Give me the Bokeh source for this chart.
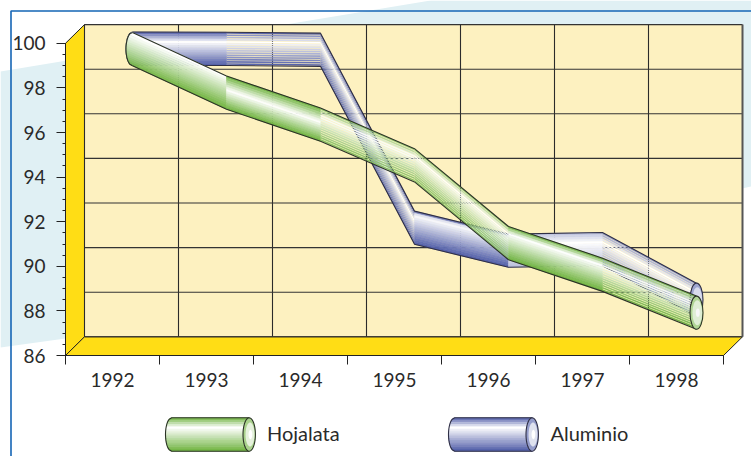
from bokeh.plotting import figure
from bokeh.embed import file_html
from bokeh.resources import INLINE
from bokeh.models import Range1d, FixedTicker, LinearAxis, Label
import numpy as np

years = [1992, 1993, 1994, 1995, 1996, 1997, 1998]
year_labels = ["1992", "1993", "1994", "1995", "1996", "1997", "1998"]
y_ticks = [86, 88, 90, 92, 94, 96, 98, 100]
hojalata = [99.74, 97.79, 96.35, 94.53, 91.04, 89.62, 87.92]
aluminio = [99.76, 99.75, 99.71, 91.73, 90.70, 90.77, 88.50]
series_names = ["Hojalata", "Aluminio"]

W, H = 751, 456
XS, YS = 94.0, 22.3
x0 = years[0] - 0.5
X0_PX, Y0_PX = 65, 355
def PX(px): return x0 + (np.asarray(px, float) - X0_PX) / XS
def PY(py): return 86 + (Y0_PX - np.asarray(py, float)) / YS

DX, DY = 19.0 / XS, 18.7 / YS      # wall depth
TUBE_DX = 20.0 / XS                # tubes stand near the back wall
TH = 16.6 / YS                     # half height of a tube
AX = 6.5 / XS                      # half width of a tube end

p = figure(width=W, height=H, output_backend="svg", toolbar_location=None,
           x_axis_location=None, y_axis_location=None,
           x_range=Range1d(float(PX(0)), float(PX(W))), y_range=Range1d(float(PY(H)), float(PY(0))),
           min_border_left=0, min_border_bottom=0, min_border_top=0, min_border_right=0,
           outline_line_color=None, background_fill_color="white", border_fill_color="white")
p.grid.visible = False

# page decoration behind the chart
p.patch(PX([0, 65, 751, 751, 430, 0]), PY([347, 338, 186, 0, 0, 71]),
        fill_color="#e0f0f4", line_color=None)
p.line(PX([10.5, 10.5, 751]), PY([456, 10.5, 10.5]), line_color="#1565b5", line_width=1.6)

# walls
xl, xr = years[0] - 0.5, years[-1] + 0.5
ylo, yhi = y_ticks[0], y_ticks[-1]
p.patch([xl + DX, xr + DX, xr + DX, xl + DX], [ylo + DY, ylo + DY, yhi + DY, yhi + DY],
        fill_color="#fdf1c0", line_color=None)
p.patch([xl, xl + DX, xl + DX, xl], [ylo, ylo + DY, yhi + DY, yhi],
        fill_color="#ffdd15", line_color="#222222", line_width=1)
p.patch([xl, xr, xr + DX, xl + DX], [ylo, ylo, ylo + DY, ylo + DY],
        fill_color="#ffdd15", line_color="#222222", line_width=1)

# grid on the back wall
bounds = [y - 0.5 for y in years] + [years[-1] + 0.5]
p.segment([b + DX for b in bounds[:-1]], [ylo + DY] * 7, [b + DX for b in bounds[:-1]], [yhi + DY] * 7,
          line_color="#2b2b2b", line_width=1.1)
p.segment([xl + DX] * 8, [t + DY for t in y_ticks], [xr + DX] * 8, [t + DY for t in y_ticks],
          line_color="#333333", line_width=1.1)
p.segment([xr + DX], [ylo + DY], [xr + DX], [yhi + DY], line_color="#555555", line_width=2)


def mix(a, b, f):
    a = np.array([int(a[i:i + 2], 16) for i in (1, 3, 5)], float)
    b = np.array([int(b[i:i + 2], 16) for i in (1, 3, 5)], float)
    c = a + (b - a) * f
    return "#%02x%02x%02x" % tuple(int(round(v)) for v in c)


def shade(dark, t, peak, strength):
    f = (peak - t) / max(peak, 1e-6) if t < peak else (t - peak) / (1 - peak)
    return mix("#ffffff", dark, min(1, f) * strength)


def tube(values, dark, rim, seg_styles):
    xs = [y + TUBE_DX for y in years]
    n = 15
    for i in range(len(xs) - 1):
        fill, peak, strength = seg_styles[i]
        solid = fill >= 1
        pxs, pys, cols = [], [], []
        for k in range(n):
            t0, t1 = k / n, (k + 1) / n
            tc = (t0 + t1) / 2
            t1 = t0 + (t1 - t0) * fill
            u0, u1 = 1 - 2 * t0, 1 - 2 * t1
            ya0, ya1 = values[i] + TH * u0, values[i] + TH * u1
            yb0, yb1 = values[i + 1] + TH * u0, values[i + 1] + TH * u1
            if i == 0:
                us = np.linspace(u0, u1, 5)
                pxs.append(list(xs[0] - AX * np.sqrt(np.clip(1 - us ** 2, 0, 1))) + [xs[1], xs[1]])
                pys.append(list(values[0] + TH * us) + [yb1, yb0])
            else:
                pxs.append([xs[i], xs[i + 1], xs[i + 1], xs[i]])
                pys.append([ya0, yb0, yb1, ya1])
            cols.append(shade(dark, tc, peak, strength))
        p.patches(pxs, pys, fill_color=cols, line_color=cols if solid else None,
                  line_width=0.5 if solid else 0)
    v = np.array(values)
    p.line(xs, v + TH, line_color=rim, line_width=1.1)
    p.line(xs, v - TH, line_color=rim, line_width=1.1)
    us = np.linspace(-1, 1, 25)
    p.line(xs[0] - AX * np.sqrt(1 - us ** 2), values[0] + TH * us, line_color=rim, line_width=1.1)
    p.ellipse([xs[-1]], [values[-1]], width=[2 * AX], height=[2 * TH],
              fill_color=mix("#ffffff", dark, 0.55), line_color=rim, line_width=1.1)
    p.ellipse([xs[-1] + 0.12 * AX], [values[-1]], width=[1.5 * AX], height=[1.5 * TH],
              fill_color=mix("#ffffff", dark, 0.22), line_color=None)
    p.ellipse([xs[-1] + 0.2 * AX], [values[-1]], width=[0.6 * AX], height=[0.5 * TH],
              fill_color="#f7f7f7", line_color=None)


BLUE, GREEN = "#4f5ca8", "#6fb33f"
tube(aluminio, BLUE, "#2f2f45",
     [(1, .30, 1), (.72, .30, 1), (.92, .30, 1), (1, .12, 1), (1, .30, .4), (.75, .30, .7)])
tube(hojalata, GREEN, "#2b3326",
     [(1, .03, 1), (1, .42, 1), (.72, .25, .85), (.78, .22, .85), (1, .22, 1), (.72, .25, 1)])

# axes, fixed to the front edge of the walls
yax = LinearAxis(fixed_location=xl, bounds=(ylo, yhi),
                 ticker=FixedTicker(ticks=y_ticks, minor_ticks=list(np.arange(ylo, yhi + .01, .5))))
yax.major_tick_out, yax.major_tick_in = 9, 0
yax.minor_tick_out, yax.minor_tick_in = 3, 0
yax.major_label_standoff = 11
xax = LinearAxis(fixed_location=ylo, bounds=(xl, xr),
                 ticker=FixedTicker(ticks=years, minor_ticks=bounds),
                 major_label_overrides=dict(zip(years, year_labels)))
xax.major_tick_out, xax.major_tick_in = 0, 0
xax.minor_tick_out, xax.minor_tick_in = 9, 0
xax.major_label_standoff = 8
for ax in (xax, yax):
    ax.axis_line_color = "#222222"
    ax.major_tick_line_color = "#222222"
    ax.minor_tick_line_color = "#222222"
    ax.major_label_text_font = "Lato"
    ax.major_label_text_font_size = "19px"
    ax.major_label_text_color = "#2a2a2a"
p.add_layout(yax, "left")
p.add_layout(xax, "below")


# legend: small cylinders beside their names
def legend_tube(left, right, top, bottom, dark, rim, peak):
    n = 15
    a = 6.2
    pxs, pys, cols = [], [], []
    cy, ry = (top + bottom) / 2, (bottom - top) / 2
    for k in range(n):
        t0, t1 = k / n, (k + 1) / n
        u = np.linspace(1 - 2 * t0, 1 - 2 * t1, 4)
        lx = left + a - a * np.sqrt(np.clip(1 - u ** 2, 0, 1))
        py = cy - u * ry
        pxs.append(PX(list(lx) + [right, right]))
        pys.append(PY(list(py) + [py[-1], py[0]]))
        cols.append(shade(dark, (t0 + t1) / 2, peak, 1))
    p.patches(pxs, pys, fill_color=cols, line_color=cols, line_width=0.5)
    us = np.linspace(-1, 1, 25)
    ox = [right] + list(left + a - a * np.sqrt(1 - us ** 2)) + [right]
    oy = [bottom] + list(cy - us * ry) + [top]
    p.line(PX(ox), PY(oy), line_color=rim, line_width=1.1)
    th = np.linspace(0, 2 * np.pi, 49)
    for sx, sy, f, lw, off in [(1, 1, .6, 1.1, 0), (.72, .72, .18, 0, .8), (.3, .28, 0, 0, 1.2)]:
        p.patch(PX(right + off + a * sx * np.cos(th)), PY(cy + ry * sy * np.sin(th)),
                fill_color=mix("#ffffff", dark, f), line_color=rim if lw else None, line_width=lw)


LEG_TOP, LEG_BOT = 417.3, 450.7
legend_tube(165, 248.7, LEG_TOP, LEG_BOT, GREEN, "#2b3326", .3)
legend_tube(448, 531.7, LEG_TOP, LEG_BOT, BLUE, "#2f2f45", .3)
for name, px in zip(series_names, [266.5, 550]):
    p.add_layout(Label(x=float(PX(px)), y=float(PY((LEG_TOP + LEG_BOT) / 2 - 2)), text=name,
                       text_font="Lato", text_font_size="20px", text_color="#2a2a2a",
                       text_baseline="middle", text_align="left"))

open("out.html", "w").write(file_html(p, INLINE))
